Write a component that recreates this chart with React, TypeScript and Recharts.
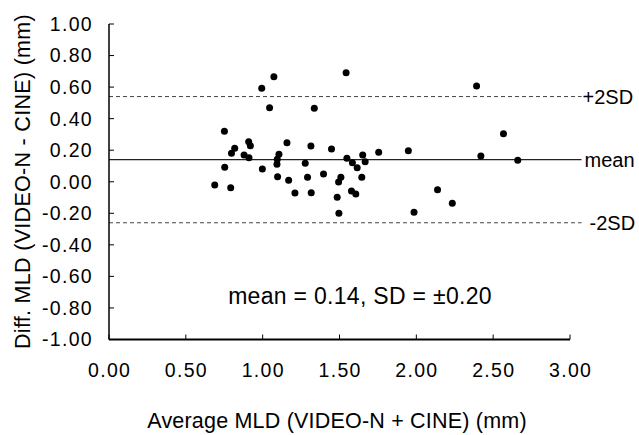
import React from 'react';
import { ScatterChart, Scatter, XAxis, YAxis, ReferenceLine } from 'recharts';

const avgMld = [
  1.073, 0.994, 1.543, 1.045, 1.336, 0.751, 0.909, 0.92, 0.818, 0.797,
  0.879, 0.911, 0.753, 0.688, 0.792, 0.998, 1.158, 1.106, 1.095, 1.093,
  1.097, 1.169, 1.21, 1.314, 1.277, 1.292, 1.316, 1.396, 1.448, 1.548,
  1.584, 1.615, 1.651, 1.667, 1.645, 1.509, 1.494, 1.485, 1.496, 1.578,
  1.606, 1.755, 2.392, 2.567, 1.948, 2.42, 2.66, 2.138, 2.234, 1.985,
];
const diffMld = [
  0.666, 0.592, 0.691, 0.469, 0.466, 0.32, 0.254, 0.229, 0.212, 0.18,
  0.17, 0.152, 0.092, -0.021, -0.038, 0.081, 0.248, 0.174, 0.142, 0.111,
  0.032, 0.009, -0.071, 0.227, 0.117, 0.028, -0.069, 0.049, 0.208, 0.149,
  0.121, 0.089, 0.17, 0.127, 0.028, 0.028, -0.002, -0.099, -0.2, -0.059,
  -0.078, 0.187, 0.607, 0.305, 0.197, 0.163, 0.136, -0.05, -0.137, -0.194,
];
const xTicks = [0, 0.5, 1, 1.5, 2, 2.5, 3];
const yTicks = [-1, -0.8, -0.6, -0.4, -0.2, 0, 0.2, 0.4, 0.6, 0.8, 1];
const meanDiff = 0.14;
const upperLimit = 0.54;
const lowerLimit = -0.26;
const lineEnd = 3.075;
const xTitle = 'Average MLD (VIDEO-N + CINE) (mm)';
const yTitle = 'Diff. MLD (VIDEO-N - CINE) (mm)';
const note = 'mean = 0.14, SD = \u00b10.20';

const data = avgMld.map((x, i) => ({ x, y: diffMld[i] }));

const FONT = "'Liberation Sans', Arial, Helvetica, sans-serif";

const XTick = (props: any) => {
  const { x, y, payload } = props;
  return (
    <text x={x + 0.6} y={y} dy="0.71em" textAnchor="middle" fill="#000" fontSize={19.5} fontFamily={FONT} letterSpacing={1.3}>
      {Number(payload.value).toFixed(2)}
    </text>
  );
};

const YTick = (props: any) => {
  const { x, y, payload } = props;
  return (
    <text x={x} y={y} dy="0.355em" textAnchor="end" fill="#000" fontSize={19.5} fontFamily={FONT} letterSpacing={1.3}>
      {Number(payload.value).toFixed(2)}
    </text>
  );
};

const XTitle = () => (
  <g>
    <text x={337} y={428} textAnchor="middle" fill="#000" fontSize={21.5} fontFamily={FONT} letterSpacing={0.2}>
      {xTitle}
    </text>
    <text x={360} y={304} textAnchor="middle" fill="#000" fontSize={23} fontFamily={FONT} letterSpacing={0.3}>
      {note}
    </text>
  </g>
);

const YTitle = () => (
  <text x={30} y={181.5} textAnchor="middle" transform="rotate(-90, 30, 181.5)" fill="#000" fontSize={21.5} fontFamily={FONT} letterSpacing={0.3}>
    {yTitle}
  </text>
);

const Dot = (props: any) => <circle cx={props.cx} cy={props.cy} r={3.5} fill="#000" />;

const labelStyle = (value: string, offset: number) => ({
  value,
  position: 'right' as const,
  offset,
  fill: '#000',
  fontSize: 20,
  fontFamily: FONT,
});

export default function App() {
  return (
    <div style={{ position: 'absolute', left: 0, top: 0, background: '#fff' }}>
      <ScatterChart width={639} height={435} margin={{ top: 24, right: 69, bottom: 35.5, left: 0 }}>
        <XAxis
          type="number"
          dataKey="x"
          domain={[0, 3]}
          ticks={xTicks}
          interval={0}
          height={60}
          tickSize={-5}
          tickMargin={29}
          tick={<XTick />}
          axisLine={{ stroke: '#000', strokeWidth: 2 }}
          tickLine={{ stroke: '#000', strokeWidth: 1 }}
          label={<XTitle />}
        />
        <YAxis
          type="number"
          dataKey="y"
          domain={[-1, 1]}
          ticks={yTicks}
          interval={0}
          width={109}
          tickSize={-5}
          tickMargin={21}
          tick={<YTick />}
          axisLine={{ stroke: '#000', strokeWidth: 1.5 }}
          tickLine={{ stroke: '#000', strokeWidth: 1 }}
          label={<YTitle />}
        />
        <ReferenceLine
          segment={[{ x: 0, y: upperLimit }, { x: lineEnd, y: upperLimit }]}
          ifOverflow="visible"
          stroke="#444"
          strokeWidth={1}
          strokeDasharray="4 3"
          label={labelStyle('+2SD', 1)}
        />
        <ReferenceLine
          segment={[{ x: 0, y: meanDiff }, { x: lineEnd, y: meanDiff }]}
          ifOverflow="visible"
          stroke="#222"
          strokeWidth={1.3}
          label={labelStyle('mean', 3)}
        />
        <ReferenceLine
          segment={[{ x: 0, y: lowerLimit }, { x: lineEnd, y: lowerLimit }]}
          ifOverflow="visible"
          stroke="#444"
          strokeWidth={1}
          strokeDasharray="4 3"
          label={labelStyle('-2SD', 8)}
        />
        <Scatter data={data} fill="#000" shape={<Dot />} isAnimationActive={false} />
      </ScatterChart>
    </div>
  );
}
